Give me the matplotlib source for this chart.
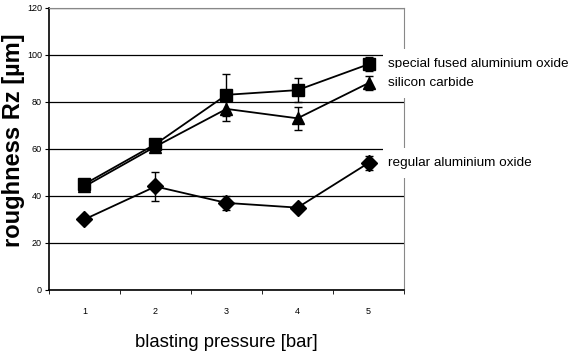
import numpy as np
import matplotlib.pyplot as plt

# ── Data ──────────────────────────────────────────────────────────────────────
pressures = ["1", "2", "3", "4", "5"]

special_fused = [45, 62, 83, 85, 96]
special_fused_err = [2, 2, 9, 5, 3]

silicon_carbide = [44, 61, 77, 73, 88]
silicon_carbide_err = [2, 2, 5, 5, 3]

regular_oxide = [30, 44, 37, 35, 54]
regular_oxide_err = [1, 6, 3, 1, 3]

y_ticks = [0, 20, 40, 60, 80, 100, 120]

plt.rcParams["font.family"] = ["Liberation Sans", "DejaVu Sans"]

fig = plt.figure(figsize=(5.83, 3.57), dpi=100)
ax = fig.add_axes([0.084, 0.188, 0.609, 0.790])

x = np.arange(len(pressures)) + 0.5

series = [
    (special_fused, special_fused_err, "s", 9, "special fused aluminium oxide"),
    (silicon_carbide, silicon_carbide_err, "^", 9, "silicon carbide"),
    (regular_oxide, regular_oxide_err, "D", 8.5, "regular aluminium oxide"),
]

for vals, err, mk, ms, name in series:
    ax.errorbar(x, vals, yerr=err, color="black", marker=mk, markersize=ms,
                linewidth=1.3, elinewidth=1.0, capsize=3.2, capthick=1.0,
                zorder=4)
    # series name next to the last point, on a white patch over the grid
    ax.text(len(pressures) - 0.225, vals[-1], name, ha="left", va="center",
            fontsize=9.7, color="black", clip_on=False, zorder=6,
            bbox=dict(boxstyle="square,pad=0.35", mutation_aspect=2.0,
                      facecolor="white", edgecolor="none"))

ax.set_xlim(0, len(pressures))
ax.set_ylim(0, 120)
ax.set_yticks(y_ticks)
ax.set_yticklabels([str(t) for t in y_ticks], fontsize=6.5)
ax.set_xticks(x)
ax.set_xticklabels(pressures, fontsize=6.5)
ax.set_xticks(np.arange(len(pressures) + 1), minor=True)
ax.tick_params(axis="x", which="major", length=0, pad=12)
ax.tick_params(axis="x", which="minor", length=3, direction="out")
ax.tick_params(axis="y", length=3, direction="out", pad=2)

ax.grid(axis="y", color="black", linewidth=0.9, zorder=0)
ax.set_axisbelow(True)

ax.spines["left"].set_color("black")
ax.spines["bottom"].set_color("black")
ax.spines["left"].set_linewidth(1.2)
ax.spines["bottom"].set_linewidth(1.2)
ax.spines["top"].set_color("#888888")
ax.spines["right"].set_color("#888888")
ax.spines["right"].set_zorder(1)

ax.set_xlabel("blasting pressure [bar]", fontsize=13.3)
ax.xaxis.set_label_coords(0.5, -0.155)
ax.set_ylabel("roughness Rz [µm]", fontsize=17, fontweight="bold")
ax.yaxis.set_label_coords(-0.068, 0.53)

fig.savefig("out.png", dpi=100, facecolor="white")
